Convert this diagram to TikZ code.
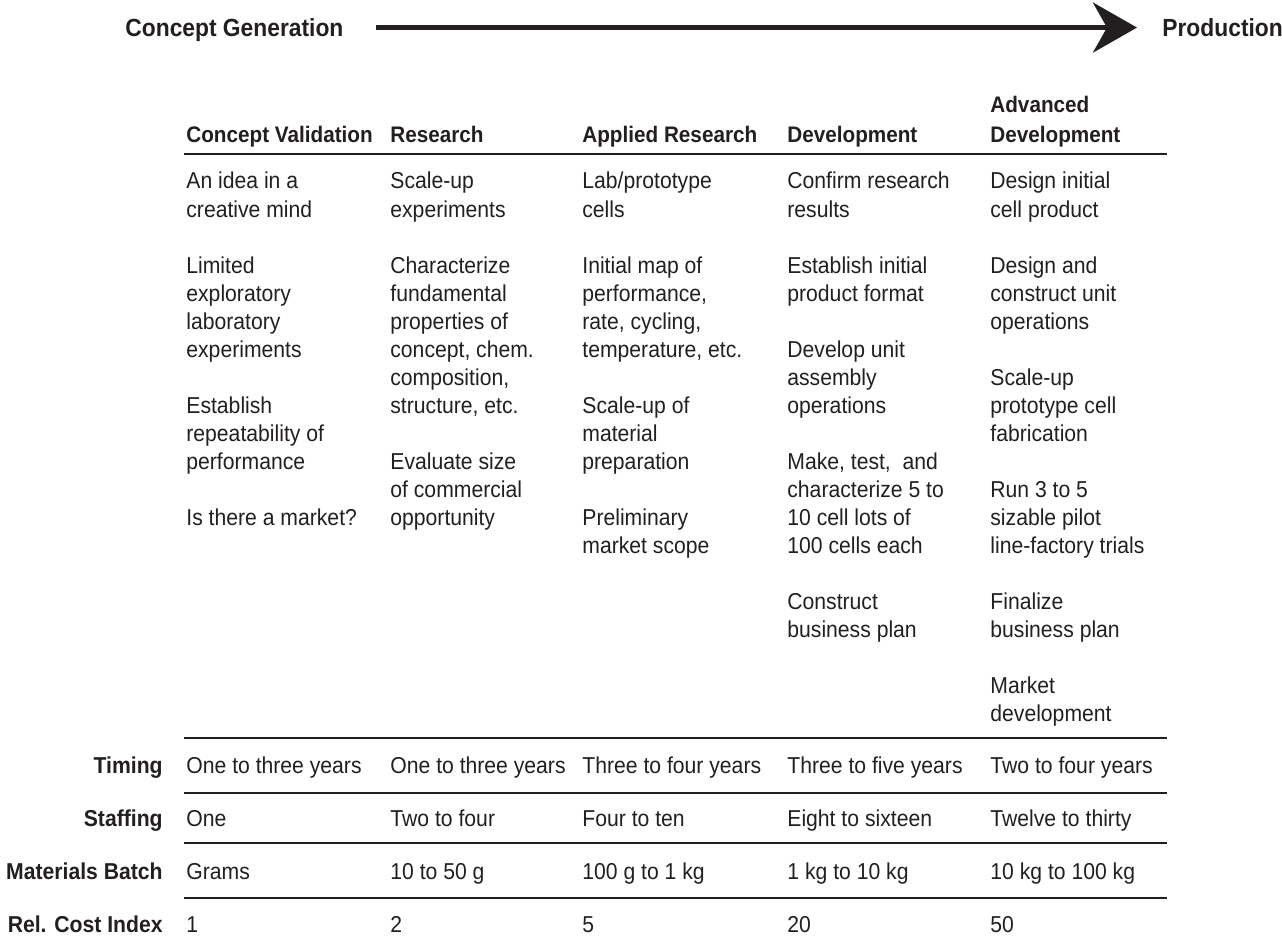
\documentclass[tikz,border=0pt]{standalone}
\usepackage{fontspec}
\setmainfont{Liberation Sans}[FakeStretch=0.92]
\usetikzlibrary{arrows.meta}
\definecolor{ink}{HTML}{231F20}

\tikzset{
  stagetitle/.style={font=\bfseries\fontsize{12.4}{14}\selectfont, anchor=base west, inner sep=0pt, text=ink},
  colhead/.style={font=\bfseries\fontsize{11.25}{15}\selectfont, anchor=base west, inner sep=0pt, text=ink, align=left},
  rowhead/.style={font=\bfseries\fontsize{11.5}{14}\selectfont, anchor=base east, inner sep=0pt, text=ink},
  cell/.style={font=\fontsize{11.5}{14}\selectfont, anchor=base west, inner sep=0pt, text=ink},
  rule/.style={line width=1.2pt, draw=ink},
  flow/.style={line width=2.5pt, draw=ink, fill=ink, -{Stealth[length=22pt,width=25pt,inset=7pt]}},
}

\begin{document}
\begin{tikzpicture}[x=0.5pt,y=-0.5pt]
  \useasboundingbox (0,0) rectangle (1282,951);

  % top arrow
  \node[stagetitle] (gen) at (125,37) {Concept Generation};
  \node[stagetitle] (prod) at (1162,37) {Production};
  \draw[flow, shorten <=16pt, shorten >=12.5pt] ([yshift=1.5pt]gen.east) -- ([yshift=1.5pt]gen.east -| prod.west);

  % column heads
  \node[colhead] (h1) at (186,143) {Concept Validation};
  \node[colhead] (h2) at (390,143) {Research};
  \node[colhead] (h3) at (582,143) {Applied Research};
  \node[colhead] (h4) at (787,143) {Development};
  \node[colhead] (h5) at (990,143) {Advanced\\Development};

  % rules
  \foreach \y in {154,738,793,843,898}
    \draw[rule] (184,\y) -- (1167,\y);

  % body
  \foreach \k/\txt in {0/An idea in a,1/creative mind,3/Limited,4/exploratory,5/laboratory,6/experiments,
      8/Establish,9/repeatability of,10/performance,12/Is there a market?}
    \node[cell] (cv-\k) at (186,{189+28.05*\k}) {\txt};
  \foreach \k/\txt in {0/Scale-up,1/experiments,3/Characterize,4/fundamental,5/properties of,6/{concept, chem.},
      7/{composition,},8/{structure, etc.},10/Evaluate size,11/of commercial,12/opportunity}
    \node[cell] (re-\k) at (390,{189+28.05*\k}) {\txt};
  \foreach \k/\txt in {0/{Lab/prototype},1/cells,3/Initial map of,4/{performance,},5/{rate, cycling,},6/{temperature, etc.},
      8/Scale-up of,9/material,10/preparation,12/Preliminary,13/market scope}
    \node[cell] (ar-\k) at (582,{189+28.05*\k}) {\txt};
  \foreach \k/\txt in {0/Confirm research,1/results,3/Establish initial,4/product format,6/Develop unit,7/assembly,
      8/operations,10/{Make, test,\ \ and},11/characterize 5 to,12/10 cell lots of,13/100 cells each,15/Construct,16/business plan}
    \node[cell] (de-\k) at (787,{189+28.05*\k}) {\txt};
  \foreach \k/\txt in {0/Design initial,1/cell product,3/Design and,4/construct unit,5/operations,7/Scale-up,
      8/prototype cell,9/fabrication,11/Run 3 to 5,12/sizable pilot,13/line-factory trials,15/Finalize,
      16/business plan,18/Market,19/development}
    \node[cell] (ad-\k) at (990,{189+28.05*\k}) {\txt};

  % bottom rows
  \foreach \y/\lab/\a/\b/\c/\d/\e in {
      774/Timing/One to three years/One to three years/Three to four years/Three to five years/Two to four years,
      827/Staffing/One/Two to four/Four to ten/Eight to sixteen/Twelve to thirty,
      880/Materials Batch/Grams/10 to 50 g/100 g to 1 kg/1 kg to 10 kg/10 kg to 100 kg,
      933/Rel. Cost Index/1/2/5/20/50}
  {
    \node[rowhead] (lab-\y) at (163,\y) {\lab};
    \node[cell] at (186,\y) {\a};
    \node[cell] at (390,\y) {\b};
    \node[cell] at (582,\y) {\c};
    \node[cell] at (787,\y) {\d};
    \node[cell] at (990,\y) {\e};
  }
\end{tikzpicture}
\end{document}
